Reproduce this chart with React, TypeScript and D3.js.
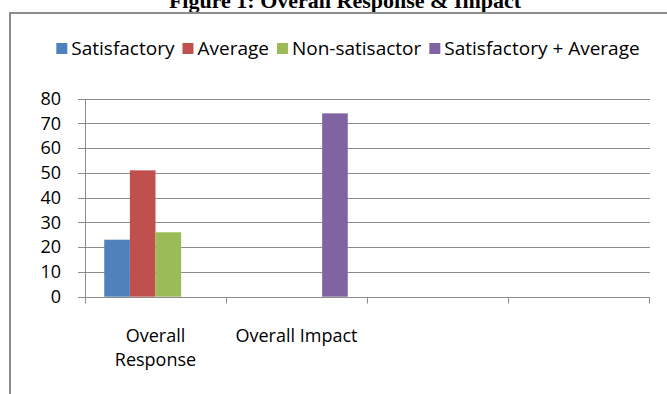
import React, { useEffect, useRef } from "react";
import * as d3 from "d3";

// Chart data
const categories = ["Overall Response", "Overall Impact", "", ""];
const seriesNames = ["Satisfactory", "Average", "Non-satisactor", "Satisfactory + Average"];
const seriesColors = ["#4F81BD", "#C0504D", "#9BBB59", "#8064A2"];
// values per series, aligned with categories (null = no bar)
const satisfactory = [23, null, null, null];
const average = [51, null, null, null];
const nonSatisfactory = [26, null, null, null];
const satisfactoryPlusAverage = [null, 74, null, null];
const yTicks = [0, 10, 20, 30, 40, 50, 60, 70, 80];
const titleText = "Figure 1: Overall Response & Impact";

const W = 667;
const H = 394;
const FONT = "'Open Sans', 'Noto Sans', sans-serif";

export default function App() {
  const ref = useRef<SVGSVGElement | null>(null);

  useEffect(() => {
    const svg = d3.select(ref.current);
    svg.selectAll("*").remove();

    const values = [satisfactory, average, nonSatisfactory, satisfactoryPlusAverage];

    // title (partly above the top edge)
    svg
      .append("text")
      .attr("x", 345)
      .attr("y", 8)
      .attr("text-anchor", "middle")
      .attr("font-family", "'Liberation Serif', 'Times New Roman', serif")
      .attr("font-weight", "bold")
      .attr("font-size", 22)
      .attr("fill", "#000")
      .text(titleText);

    // chart frame
    svg
      .append("rect")
      .attr("x", 10)
      .attr("y", 13)
      .attr("width", 700)
      .attr("height", 420)
      .attr("fill", "#fff")
      .attr("stroke", "#8c8c8c")
      .attr("stroke-width", 2);

    const left = 85;
    const right = 649;
    const x = d3.scaleBand<string>().domain(categories.map((_, i) => String(i))).range([left, right]);
    const xs = d3
      .scaleBand<string>()
      .domain(seriesNames)
      .range([0, x.bandwidth()])
      .paddingInner(0)
      .paddingOuter(0.75);
    const y = d3.scaleLinear().domain([0, 80]).range([296.7, 98.5]);

    // gridlines
    const g = svg.append("g");
    g.selectAll("line.grid")
      .data(yTicks)
      .join("line")
      .attr("class", "grid")
      .attr("x1", left - 7)
      .attr("x2", right + 1)
      .attr("y1", (d) => Math.round(y(d)) + 0.5)
      .attr("y2", (d) => Math.round(y(d)) + 0.5)
      .attr("stroke", "#8c8c8c")
      .attr("stroke-width", 1);

    // y axis line
    g.append("line")
      .attr("x1", left + 0.5)
      .attr("x2", left + 0.5)
      .attr("y1", Math.round(y(80)) + 0.5)
      .attr("y2", Math.round(y(0)) + 0.5)
      .attr("stroke", "#8c8c8c");

    // y tick labels
    g.selectAll("text.ytick")
      .data(yTicks)
      .join("text")
      .attr("class", "ytick")
      .attr("x", 61)
      .attr("y", (d) => y(d))
      .attr("dy", "0.35em")
      .attr("text-anchor", "end")
      .attr("font-family", FONT)
      .attr("font-size", 18)
      .attr("fill", "#000")
      .text((d) => String(d));

    // x axis category boundary ticks
    const boundaries = categories.map((_, i) => x(String(i)) as number).concat([right]);
    g.selectAll("line.xtick")
      .data(boundaries)
      .join("line")
      .attr("class", "xtick")
      .attr("x1", (d) => Math.round(d) + 0.5)
      .attr("x2", (d) => Math.round(d) + 0.5)
      .attr("y1", Math.round(y(0)) + 0.5)
      .attr("y2", Math.round(y(0)) + 6.5)
      .attr("stroke", "#8c8c8c");

    // bars
    const bars: { cat: number; s: number; v: number }[] = [];
    values.forEach((arr, s) =>
      arr.forEach((v, cat) => {
        if (v != null) bars.push({ cat, s, v });
      })
    );
    g.selectAll("rect.bar")
      .data(bars)
      .join("rect")
      .attr("class", "bar")
      .attr("x", (d) => (x(String(d.cat)) as number) + (xs(seriesNames[d.s]) as number))
      .attr("width", xs.bandwidth())
      .attr("y", (d) => y(d.v))
      .attr("height", (d) => y(0) - y(d.v))
      .attr("fill", (d) => seriesColors[d.s]);

    // category labels, wrapped to the band width
    categories.forEach((c, i) => {
      if (!c) return;
      const cx = (x(String(i)) as number) + x.bandwidth() / 2;
      const t = g
        .append("text")
        .attr("x", cx)
        .attr("y", 342)
        .attr("text-anchor", "middle")
        .attr("font-family", FONT)
        .attr("font-size", 18)
        .attr("fill", "#000");
      const words = c.split(" ");
      let line: string[] = [];
      let lineNo = 0;
      let tspan = t.append("tspan").attr("x", cx).attr("y", 342);
      words.forEach((w) => {
        line.push(w);
        tspan.text(line.join(" "));
        if ((tspan.node() as SVGTSpanElement).getComputedTextLength() > x.bandwidth() && line.length > 1) {
          line.pop();
          tspan.text(line.join(" "));
          line = [w];
          lineNo += 1;
          tspan = t.append("tspan").attr("x", cx).attr("y", 342 + lineNo * 24).text(w);
        }
      });
    });

    // legend
    const lg = svg.append("g");
    const sq = 11;
    const gapAfterSquare = 4;
    const gapAfterText = 8;
    const items = seriesNames.map((name, i) => {
      const t = lg
        .append("text")
        .attr("font-family", FONT)
        .attr("font-size", 19)
        .attr("fill", "#000")
        .attr("y", 55)
        .text(name);
      const w = (t.node() as SVGTextElement).getComputedTextLength();
      const r = lg.append("rect").attr("width", sq).attr("height", sq).attr("y", 43).attr("fill", seriesColors[i]);
      return { t, r, w };
    });
    const total =
      items.reduce((a, it) => a + sq + gapAfterSquare + it.w, 0) + gapAfterText * (items.length - 1);
    let cursor = 348 - total / 2;
    items.forEach((it) => {
      it.r.attr("x", cursor);
      it.t.attr("x", cursor + sq + gapAfterSquare);
      cursor += sq + gapAfterSquare + it.w + gapAfterText;
    });
  }, []);

  return (
    <svg
      ref={ref}
      width={W}
      height={H}
      style={{ position: "absolute", left: 0, top: 0, background: "#fff" }}
    />
  );
}
